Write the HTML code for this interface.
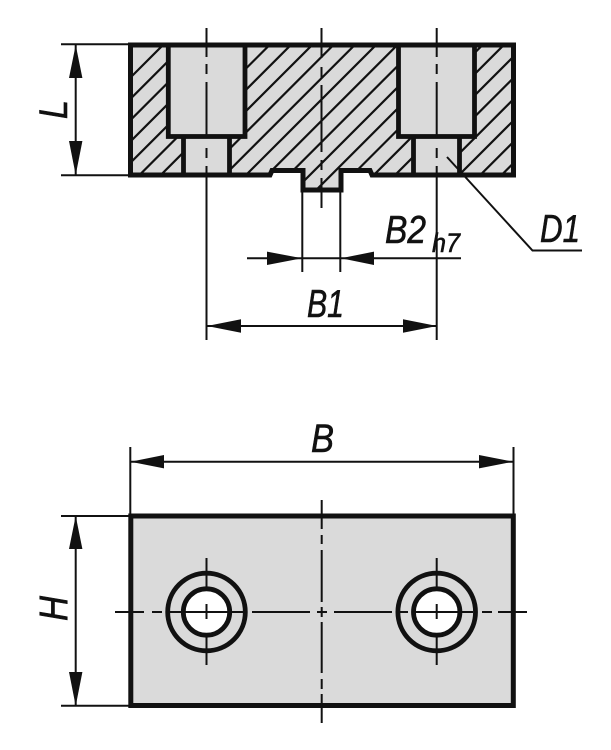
<!DOCTYPE html>
<html>
<head>
<meta charset="utf-8">
<style>
html,body{margin:0;padding:0;background:#fff}
svg{display:block}
text{font-family:"Liberation Sans",sans-serif;font-style:italic;fill:#111;stroke:#111;stroke-width:.6}
</style>
</head>
<body>
<svg width="611" height="750" viewBox="0 0 611 750" xmlns="http://www.w3.org/2000/svg">
<defs>
<clipPath id="c1"><path d="M130.500,45H513.500V175H372L370,170.500H341V190H303V170.500H272L270,175H130.500Z"/></clipPath>
</defs>

<!-- top view body -->
<path d="M130.500,45H513.500V175H372L370,170.500H341V190H303V170.500H272L270,175H130.500Z" fill="#dadada"/>
<g clip-path="url(#c1)" stroke="#111" stroke-width="2.200" fill="none">
<path d="M208,0L0,208M229.300,0L0,229.300M250.600,0L0,250.600M271.900,0L0,271.900M293.200,0L0,293.200M314.500,0L0,314.500M335.800,0L0,335.800M357.100,0L0,357.100M378.400,0L0,378.400M399.700,0L0,399.700M421,0L0,421M442.300,0L0,442.300M463.600,0L0,463.600M484.900,0L0,484.900M506.200,0L0,506.200M527.500,0L0,527.500M548.800,0L0,548.800M570.100,0L0,570.100M591.400,0L0,591.400M612.700,0L0,612.700M634,0L0,634M655.300,0L0,655.300M676.600,0L0,676.600"/>
</g>
<!-- bores -->
<g fill="#dadada" stroke="#111" stroke-width="4.800">
<rect x="183.500" y="136" width="46" height="39"/>
<rect x="413.500" y="136" width="46" height="39"/>
<rect x="168.300" y="45" width="76.700" height="91.500"/>
<rect x="398.500" y="45" width="76" height="91.500"/>
</g>
<path d="M130.500,45H513.500V175H372L370,170.500H341V190H303V170.500H272L270,175H130.500Z" fill="none" stroke="#111" stroke-width="5"/>

<!-- centre lines, top view -->
<g fill="none" stroke="#111" stroke-width="2">
<path d="M206.500,28V57M206.500,64V74M206.500,82V138M206.500,148V158M206.500,166V340"/>
<path d="M436.700,28V57M436.700,64V74M436.700,82V138M436.700,148V158M436.700,166V340"/>
<path d="M321.500,28V58M321.500,67V78M321.500,85V152M321.500,160V170M321.500,178V208"/>
</g>

<!-- dimension lines, top -->
<g fill="none" stroke="#111" stroke-width="2">
<path d="M61,44.300H130M61,175.300H130M75.700,44V175"/>
<path d="M302.300,190V272M340.300,190V272M247,258.300H461"/>
<path d="M206,326H437"/>
<path d="M447,157L532.500,250.500H582"/>
</g>
<g fill="#111">
<path d="M75.700,45L69,78H82.400Z"/>
<path d="M75.700,175L69,141H82.400Z"/>
<path d="M302,258.300L267,251.600V265Z"/>
<path d="M341,258.300L374,251.600V265Z"/>
<path d="M207,326L241,319.300V332.700Z"/>
<path d="M437,326L403,319.300V332.700Z"/>
</g>

<!-- bottom view -->
<rect x="130.800" y="516" width="382.500" height="189.500" fill="#dadada" stroke="#111" stroke-width="5"/>
<g fill="none" stroke="#111" stroke-width="4.800">
<circle cx="206.500" cy="612" r="38.800"/>
<circle cx="436.700" cy="612" r="38.800"/>
<circle cx="206.500" cy="612" r="23.200" fill="#fff"/>
<circle cx="436.700" cy="612" r="23.200" fill="#fff"/>
</g>
<g fill="none" stroke="#111" stroke-width="2">
<path d="M115,612H144M152,612H162M170,612H243M252,612H310M317,612H327M334,612H392M397,612H408M415,612H473M482,612H492M498,612H527"/>
<path d="M206.500,558V590M206.500,604V619M206.500,633V665M436.700,558V590M436.700,604V619M436.700,633V665"/>
<path d="M321.700,500V529M321.700,535V544M321.700,550V602M321.700,607V617M321.700,622V673M321.700,679V689M321.700,694V723"/>
</g>

<!-- dimension lines, bottom -->
<g fill="none" stroke="#111" stroke-width="2">
<path d="M130.300,447V516M513.500,447V516M131,461.700H513"/>
<path d="M61,516H130M61,705.800H130M75.700,516V706"/>
</g>
<g fill="#111">
<path d="M130.500,461.700L164,455V468.400Z"/>
<path d="M513,461.700L479,455V468.400Z"/>
<path d="M75.700,516L69,549H82.400Z"/>
<path d="M75.700,706L69,672H82.400Z"/>
</g>

<!-- labels -->
<text x="307" y="317" font-size="39" textLength="37" lengthAdjust="spacingAndGlyphs">B1</text>
<text x="385" y="243" font-size="39" textLength="41" lengthAdjust="spacingAndGlyphs">B2</text>
<text x="432" y="252" font-size="27" textLength="28" lengthAdjust="spacingAndGlyphs">h7</text>
<text x="540" y="242" font-size="39" textLength="40" lengthAdjust="spacingAndGlyphs">D1</text>
<text x="311" y="452" font-size="40" textLength="23" lengthAdjust="spacingAndGlyphs">B</text>
<text transform="translate(67,119) rotate(-90)" font-size="40" textLength="19" lengthAdjust="spacingAndGlyphs">L</text>
<text transform="translate(67,621) rotate(-90)" font-size="40" textLength="25" lengthAdjust="spacingAndGlyphs">H</text>
</svg>
</body>
</html>
